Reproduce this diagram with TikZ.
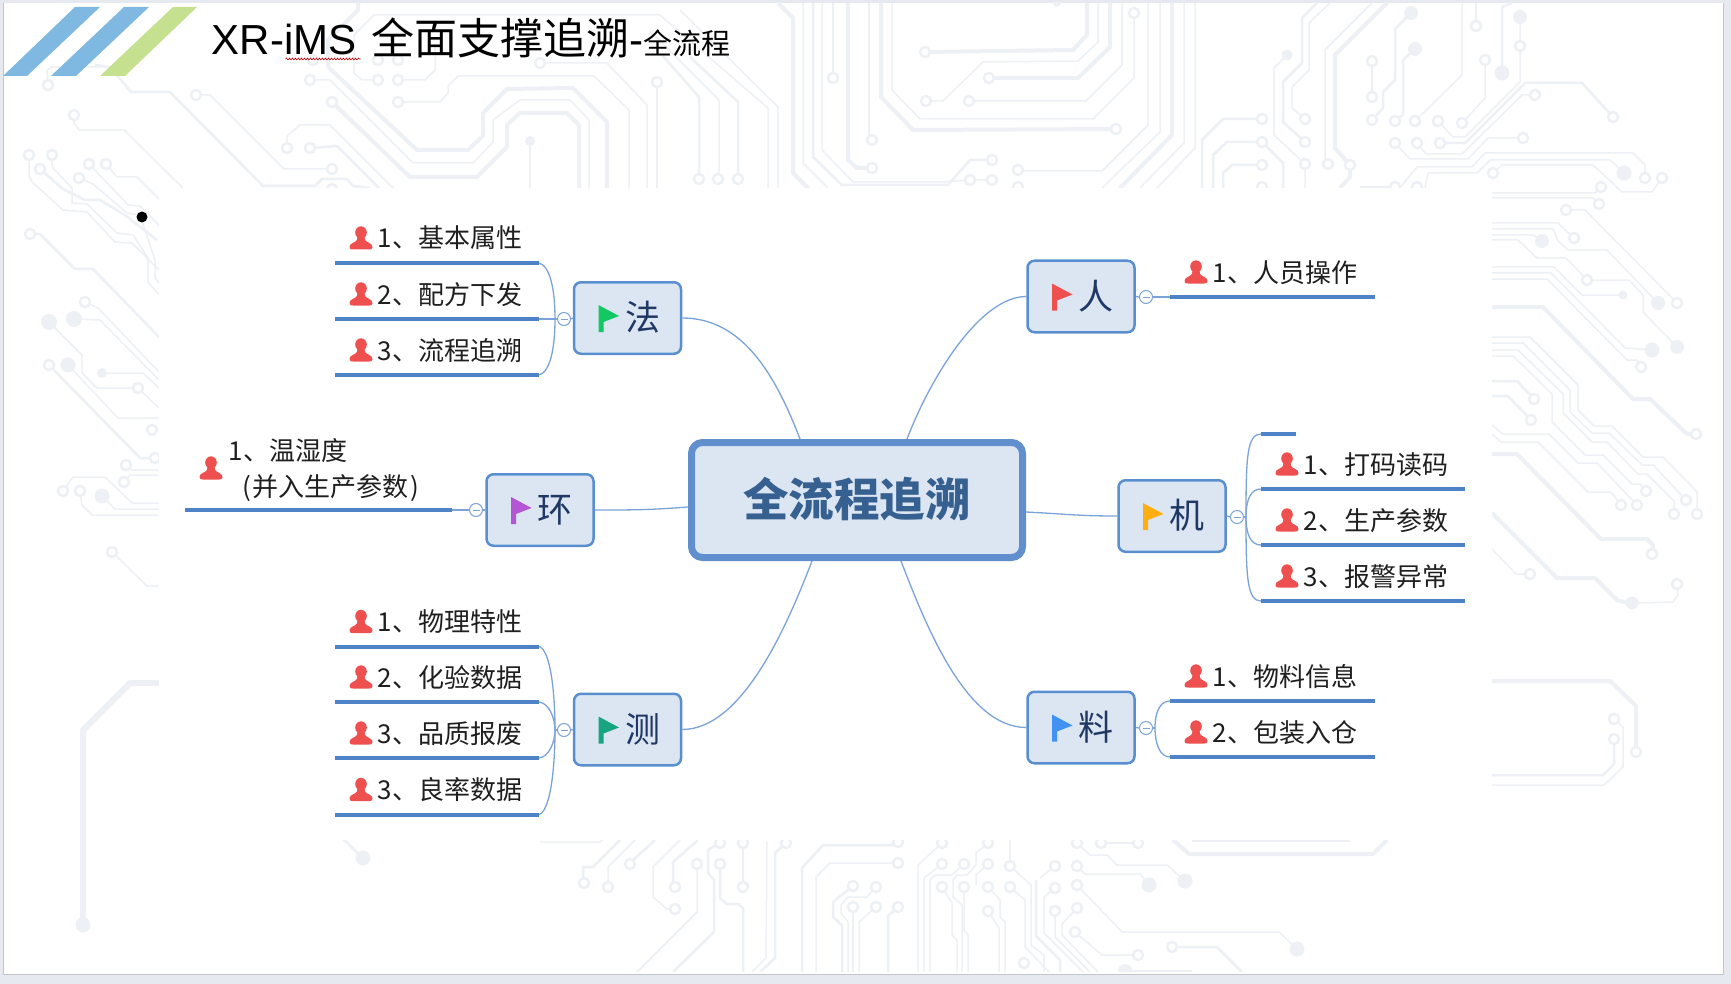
\documentclass[tikz,border=0pt]{standalone}
\usepackage{fontspec}
\usetikzlibrary{calc,decorations.pathmorphing}
\setmainfont{Liberation Sans}
\newfontfamily\cjkfont{Noto Sans CJK SC}
\definecolor{outerbg}{HTML}{E6E9EF}
\definecolor{slideedge}{HTML}{C2C6CC}
\definecolor{trace}{HTML}{EDF0F4}
\definecolor{branch}{HTML}{4F83C8}
\definecolor{thinlink}{HTML}{7BA3D8}
\definecolor{nodefill}{HTML}{DCE6F3}
\definecolor{nodeedge}{HTML}{5A8FCF}
\definecolor{navy}{HTML}{1F3864}
\definecolor{persred}{HTML}{EE5050}
\definecolor{titleblue}{HTML}{36608F}
\definecolor{flaggreen}{HTML}{12C862}
\definecolor{flagpurple}{HTML}{B455D6}
\definecolor{flagorange}{HTML}{FFAE12}
\definecolor{flagteal}{HTML}{16A57E}
\definecolor{flagblue}{HTML}{4192F2}
\tikzset{
 tA/.style={trace,line width=1.5pt,line join=round},
 tB/.style={trace,line width=2.5pt,line join=round},
 tC/.style={trace,line width=4pt,line join=round},
 tD/.style={trace,line width=6pt,line join=round},
 centre/.style={draw=branch!90!white,fill=nodefill,line width=7pt,rounded corners=11pt,minimum width=331pt,minimum height=115pt,inner sep=0pt,text=titleblue,font=\cjkfont\bfseries\fontsize{45.5}{50}\selectfont},
 topic/.style={draw=nodeedge,fill=nodefill,line width=2.5pt,rounded corners=7pt,minimum width=107pt,minimum height=71.5pt,inner sep=0pt,text=navy,font=\cjkfont\fontsize{35}{38}\selectfont},
 fold/.style={circle,draw=thinlink,fill=white,line width=1pt,minimum size=13pt,inner sep=0pt},
 lab/.style={anchor=base west,inner sep=0pt,text=black!88,font=\cjkfont\fontsize{26}{30}\selectfont},
 sub/.style={branch,line width=4pt},
 link/.style={thinlink,line width=1.3pt},
 flagicon/.pic={\path[pic actions] (0,0)--(20.5,11)--(5,17)--(5,27)--(0,27)--cycle;},
 personicon/.pic={\fill[persred] (0,-5.5) ellipse (5.8pt and 6.2pt);
   \fill[persred] (-3.6,-1)--(3.6,-1)--(4,2)..controls (6,5) and (11.5,5) .. (11.5,9)..controls (11.5,11.5) and (10,11.5) .. (8,11.5)--(-8,11.5)..controls (-10,11.5) and (-11.5,11.5) .. (-11.5,9)..controls (-11.5,5) and (-6,5) .. (-4,2)--cycle;}
}
\newcommand{\subt}[5]{%
 \coordinate (#1l) at (#2,#4);
 \coordinate (#1r) at (#3,#4);
 \draw[sub] (#1l)--(#1r);
 \pic at (#2+26,#4-25) {personicon};
 \node[lab] (#1t) at (#2+42.5,#4-15) {#5};
}
\newcommand{\topicflag}[5]{%
 \node[topic] (#1) at (#2,#3) {\rule[-5pt]{0pt}{35pt}\hspace*{30pt}#4};
 \pic[fill=#5] at ($(#1.center)+(-29,-13)$) {flagicon};
}
\newcommand{\minus}[1]{\draw[thinlink,line width=1pt] ($(#1)+(-3.5,0)$)--($(#1)+(3.5,0)$);}
\begin{document}
\begin{tikzpicture}[x=1pt,y=-1pt]
\useasboundingbox (0,0) rectangle (1731,984);
\fill[outerbg] (0,0) rectangle (1731,984);
\fill[white] (3,3) rectangle (1723,974);
\draw[slideedge,line width=1pt] (3,3)--(3,974)--(1723,974)--(1723,3);
\begin{scope}
\clip (3.5,3) rectangle (1722.5,971);
% ---- circuit background: top
\draw[tA] (48,85)--(47,70)--(52,67)--(110,67);
\draw[tB] (95,65)--(110,67)--(131,92)--(170,92)--(263,186)--(315,186)--(322,179)--(347,179)--(353,186)--(370,188);
\draw[tA] (196,95)--(210,95)--(284,169)--(332,169);
\draw[tA] (74,115)--(74,123)--(79,130)--(124,130)--(183,188);
\draw[tA] (310,80)--(330,80)--(413,163)--(473,163)--(493,142)--(493,120)--(520,100)--(570,100)--(589,120)--(589,188);
\draw[tC] (328,67)--(328,40)--(358,10)--(358,3);
\draw[tC] (328,67)--(417,150)--(468,150)--(483,136)--(483,113)--(507,89)--(573,88)--(607,122)--(607,188);
\draw[tC] (332,102)--(410,177)--(477,177)--(507,147)--(507,125)--(520,113)--(567,113)--(579,125)--(579,188);
\draw[tA] (398,80)--(425,80)--(435,70)--(435,45);
\draw[tA] (378,80)--(362,80)--(354,73)--(354,35)--(374,15)--(660,15)--(768,108)--(768,188);
\draw[tA] (398,102)--(440,102)--(448,93)--(448,86)--(458,76)--(594,76)--(629,110)--(629,188);
\draw[tA] (287,148)--(287,136)--(300,125)--(330,125)--(393,188);
\draw[tB] (310,148)--(337,146)--(380,189);
\draw[tA] (540,63)--(607,63)--(647,105)--(647,188);
\draw[tB] (657,82)--(657,188);
\draw[tB] (530,141)--(530,188);
\draw[tB] (662,55)--(699,97)--(699,173);
\draw[tA] (650,31)--(719,100)--(719,173);
\draw[tB] (690,57)--(738,102)--(738,173);
\draw[tA] (680,10)--(778,107)--(778,188);
\draw[tC] (778,3)--(793,18)--(793,173)--(808,188);
\draw[tA] (803,3)--(803,163)--(828,188);
\draw[tB] (813,3)--(813,157)--(842,185)--(948,185)--(970,160)--(992,160);
\draw[tA] (822,3)--(822,150)--(853,182)--(943,182)--(970,180)--(992,180);
\draw[tA] (833,3)--(833,78);
\draw[tC] (848,3)--(848,160)--(857,168)--(872,168);
\draw[tB] (869,3)--(869,138);
\draw[tC] (881,3)--(881,97)--(913,130)--(1116,129);
\draw[tA] (892,3)--(892,90)--(920,119)--(1093,119)--(1134,78)--(1134,13);
\draw[tC] (925,52)--(1073,50)--(1087,35)--(1087,3);
\draw[tC] (989,78)--(1078,78)--(1110,47)--(1110,3);
\draw[tA] (926,101)--(943,101)--(983,62)--(1078,61)--(1098,42)--(1098,3);
\draw[tA] (969,101)--(1086,101)--(1122,65)--(1122,3);
\draw[tA] (1018,171)--(1102,171)--(1148,125)--(1148,3);
\draw[tA] (1160,3)--(1160,132)--(1102,188);
\draw[tC] (1172,3)--(1172,135)--(1120,188);
\draw[tA] (1184,3)--(1184,143)--(1140,188);
\draw[tA] (1195,3)--(1195,148)--(1157,188);
\draw[tB] (1262,119)--(1223,119)--(1202,140)--(1202,188);
\draw[tB] (1262,142)--(1227,142)--(1213,155)--(1213,188);
\draw[tB] (1262,142)--(1283,163)--(1283,188);
\draw[tB] (1262,165)--(1232,165)--(1223,173)--(1223,188);
\draw[tA] (1287,55)--(1274,68)--(1274,135)--(1305,164)--(1305,188);
\draw[tA] (1305,119)--(1292,108)--(1292,87)--(1309,70)--(1309,23)--(1330,3);
\draw[tB] (1305,142)--(1283,122)--(1283,82)--(1302,63)--(1302,18)--(1317,3);
\draw[tA] (1328,164)--(1325,157)--(1325,50)--(1372,3);
\draw[tC] (1350,165)--(1335,148)--(1335,55)--(1387,3);
\draw[tC] (1350,165)--(1350,177)--(1340,188);
\draw[tA] (1372,61)--(1372,97);
\draw[tB] (1411,13)--(1395,29)--(1395,80)--(1383,92)--(1383,108)--(1372,120);
\draw[tB] (1415,49)--(1403,60)--(1403,115)--(1395,121);
\draw[tA] (1415,121)--(1462,75)--(1462,3);
\draw[tA] (1438,121)--(1453,137)--(1465,137)--(1520,82)--(1520,17);
\draw[tA] (1462,123)--(1485,98)--(1485,60);
\draw[tA] (1476,26)--(1476,3);
\draw[tB] (1502,73)--(1502,7)--(1512,3);
\draw[tA] (1395,143)--(1410,159)--(1468,159)--(1488,138)--(1523,138);
\draw[tA] (1417,143)--(1426,154)--(1462,154)--(1522,95)--(1535,95);
\draw[tB] (1440,143)--(1465,143)--(1525,83)--(1582,83)--(1613,117);
\draw[tA] (1400,188)--(1417,167)--(1472,167)--(1485,153)--(1633,153)--(1645,165)--(1645,178);
\draw[tA] (1425,188)--(1428,173)--(1477,173)--(1490,160)--(1610,160)--(1624,173);
\draw[tA] (1493,173)--(1502,165)--(1593,165)--(1622,192)--(1652,192)--(1662,178);
\draw[tB] (1360,187)--(1395,187);
% ---- left side
\draw[tA] (30,180)--(63,210)--(87,212)--(115,242)--(132,243)--(159,270);
\draw[tA] (29,155)--(29,177)--(32,180);
\draw[tA] (52,155)--(52,167)--(72,188)--(72,203)--(87,204)--(117,233)--(133,235)--(148,258)--(148,282)--(159,295);
\draw[tB] (40,169)--(63,189)--(85,200)--(100,200)--(125,215)--(157,240);
\draw[tA] (79,178)--(93,184)--(127,213)--(140,215)--(155,260)--(155,278)--(159,283);
\draw[tA] (89,164)--(113,189)--(128,205)--(140,206)--(159,225);
\draw[tA] (106,164)--(117,177)--(137,177)--(159,199);
\draw[tB] (30,234)--(40,234)--(75,269)--(93,269)--(159,337);
\draw[tA] (85,302)--(98,308)--(159,372);
\draw[tA] (74,319)--(100,320)--(159,380);
\draw[tA] (49,322)--(82,355)--(82,373)--(97,388)--(138,388)--(159,408);
\draw[tB] (49,365)--(140,458)--(159,458);
\draw[tA] (68,365)--(118,418)--(159,418);
\draw[tA] (102,373)--(143,373)--(159,388);
\draw[tA] (126,465)--(132,470)--(159,470);
\draw[tA] (124,482)--(130,475)--(159,475);
\draw[tA] (63,491)--(73,477)--(105,477)--(132,503)--(159,503);
\draw[tA] (80,491)--(82,505)--(92,515)--(159,515);
\draw[tA] (102,496)--(115,509)--(159,509);
\draw[tA] (112,552)--(147,586)--(159,586);
\draw[tD] (83,925)--(83,730)--(130,683)--(159,683);
% ---- right side
\draw[tA] (1492,193)--(1595,193)--(1601,187);
\draw[tA] (1492,198)--(1593,198)--(1599,204);
\draw[tA] (1566,210)--(1585,210)--(1677,303);
\draw[tA] (1492,223)--(1558,223)--(1574,238);
\draw[tA] (1492,229)--(1553,229)--(1558,241)--(1568,250)--(1607,250)--(1658,303);
\draw[tA] (1492,235)--(1533,235)--(1542,241);
\draw[tA] (1492,240)--(1518,240)--(1537,258)--(1566,258)--(1587,280)--(1629,280)--(1643,295)--(1643,312)--(1677,347);
\draw[tA] (1492,267)--(1554,267)--(1582,295)--(1623,295);
\draw[tA] (1492,273)--(1551,273)--(1625,348)--(1652,350);
\draw[tA] (1492,279)--(1547,279)--(1627,360)--(1637,360)--(1641,367);
\draw[tC] (1492,307)--(1543,307)--(1633,399)--(1650,399)--(1687,434)--(1696,434);
\draw[tA] (1492,337)--(1530,337)--(1578,385)--(1578,410)--(1594,426)--(1612,426)--(1643,457)--(1663,457)--(1697,492)--(1697,514);
\draw[tA] (1492,343)--(1523,343)--(1570,390)--(1570,412)--(1592,433)--(1609,433)--(1642,465)--(1653,465)--(1686,500);
\draw[tA] (1492,350)--(1518,350)--(1563,394)--(1563,413)--(1592,442)--(1607,442)--(1638,474)--(1647,474)--(1674,501)--(1674,514);
\draw[tA] (1492,356)--(1513,356)--(1552,394)--(1552,422)--(1585,455)--(1603,455)--(1632,484)--(1640,484)--(1646,491);
\draw[tB] (1492,381)--(1517,381)--(1534,399);
\draw[tB] (1492,396)--(1508,396)--(1531,420);
\draw[tA] (1492,425)--(1503,434)--(1549,434)--(1578,463)--(1597,463)--(1637,505);
\draw[tA] (1492,434)--(1501,442)--(1538,442)--(1588,492)--(1611,492)--(1621,505);
\draw[tC] (1492,454)--(1517,454)--(1601,539)--(1647,539)--(1653,545)--(1652,554);
\draw[tC] (1492,513)--(1557,578)--(1595,578)--(1618,601)--(1632,603);
\draw[tA] (1632,603)--(1673,602)--(1678,595)--(1677,584);
\draw[tA] (1492,549)--(1516,574)--(1530,574);
\draw[tC] (1492,681)--(1610,681)--(1636,706)--(1636,752);
\draw[tA] (1614,719)--(1623,727)--(1623,767)--(1604,785)--(1492,785);
\draw[tB] (1614,739)--(1614,764)--(1603,775)--(1492,775);
% ---- bottom
\draw[tB] (363,858)--(342,838);
\draw[tA] (540,842)--(600,842)--(603,840);
\draw[tB] (620,840)--(593,867)--(583,867)--(583,883);
\draw[tA] (635,840)--(608,867)--(608,887);
\draw[tB] (655,840)--(630,863);
\draw[tA] (680,840)--(653,867)--(653,897)--(667,909)--(675,909);
\draw[tB] (698,840)--(673,862)--(673,887);
\draw[tA] (697,864)--(697,912)--(637,972);
\draw[tB] (720,843)--(708,850)--(708,873)--(714,880)--(714,932)--(673,972);
\draw[tB] (720,864)--(720,898)--(727,904)--(738,904)--(743,908)--(743,972);
\draw[tA] (743,843)--(743,887);
\draw[tA] (767,842)--(766,958)--(752,972);
\draw[tB] (786,843)--(775,853)--(775,958)--(760,972);
\draw[tB] (898,842)--(893,845)--(823,845)--(802,868)--(802,972);
\draw[tA] (898,863)--(830,863)--(816,877)--(816,972);
\draw[tB] (853,886)--(833,902)--(833,917)--(842,925)--(842,972);
\draw[tA] (876,887)--(867,897)--(848,897)--(841,905)--(841,913)--(848,922)--(848,972);
\draw[tA] (853,907)--(853,972);
\draw[tA] (876,907)--(859,922)--(859,972);
\draw[tB] (898,907)--(888,916)--(888,972);
\draw[tA] (942,843)--(918,865)--(918,972);
\draw[tA] (942,864)--(924,878)--(924,972);
\draw[tA] (942,887)--(952,903)--(952,935)--(957,940)--(957,972);
\draw[tA] (964,864)--(952,875)--(935,875)--(930,880)--(930,972);
\draw[tA] (964,887)--(964,930)--(968,935)--(968,972);
\draw[tA] (988,843)--(976,853)--(976,865)--(967,875)--(957,875)--(953,880)--(953,897)--(962,905)--(962,972);
\draw[tA] (988,864)--(976,875)--(976,885);
\draw[tA] (988,887)--(1000,900)--(1000,917)--(1005,922)--(1005,972);
\draw[tA] (988,911)--(999,928)--(999,972);
\draw[tB] (1010,866)--(1010,840);
\draw[tA] (1010,866)--(1031,885)--(1031,945)--(1044,955)--(1044,972);
\draw[tA] (1010,887)--(1025,900)--(1025,947)--(1049,972);
\draw[tB] (1036,880)--(1036,936)--(1060,960)--(1060,972);
\draw[tC] (1173,840)--(1189,854)--(1373,854)--(1387,840);
\draw[tA] (1192,841)--(1350,841);
\draw[tA] (1101,843)--(1138,843);
\draw[tA] (1077,843)--(1090,855)--(1107,855)--(1117,865)--(1167,865)--(1185,881);
\draw[tA] (1077,866)--(1085,874)--(1140,874)--(1149,885);
\draw[tA] (1077,885)--(1122,932)--(1279,932)--(1297,949);
\draw[tA] (1077,908)--(1062,924)--(1062,935)--(1098,972);
\draw[tA] (1075,932)--(1102,955)--(1138,955);
\draw[tB] (1172,947)--(1217,947)--(1242,972);
\draw[tA] (1125,971)--(1192,971);
\draw[tA] (1055,866)--(1040,878);
\draw[tA] (1055,888)--(1044,897)--(1044,933)--(1083,972);
\draw[tA] (1055,911)--(1055,937)--(1090,972);
% rings
\foreach \p in {(48,85),(196,95),(74,115),(310,80),(332,102),(378,80),(398,80),(398,102),(287,148),(310,148),(332,169),(332,189),(313,60),(378,60),(398,60),
 (540,63),(657,82),(699,179),(718,179),(738,179),(833,78),(872,140),(872,168),(925,52),(989,78),(926,101),(969,101),(992,160),(992,180),(970,180),(1018,170),(1018,187),
 (1134,13),(1116,129),(1262,119),(1262,142),(1262,165),(1262,187),(1305,119),(1305,142),(1305,164),(1328,164),(1350,165),(1372,61),(1372,97),(1372,120),(1395,121),(1415,121),(1438,121),(1462,123),(1395,143),(1417,143),(1440,143),(1520,46),(1485,60),(1476,26),(1523,138),(1535,95),(1613,117),(1645,178),(1662,178),(1493,173),(1395,187),(1417,187),
 (29,155),(52,155),(40,169),(89,164),(106,164),(79,178),(30,234),(85,302),(138,388),(49,365),(152,430),(155,458),(126,465),(124,482),(63,491),(80,491),(112,552),
 (1601,187),(1599,204),(1566,210),(1677,303),(1574,238),(1587,280),(1641,367),(1696,434),(1697,514),(1686,500),(1674,514),(1646,491),(1534,399),(1531,420),(1637,505),(1621,505),(1652,554),(1677,584),(1530,574),(1636,752),(1614,719),(1614,739),
 (584,883),(608,887),(630,864),(675,887),(675,909),(697,864),(720,843),(720,864),(743,843),(743,887),(786,843),(898,842),(898,863),(853,886),(876,887),(853,907),(876,907),(898,907),(942,843),(942,864),(942,887),(964,864),(964,887),(988,843),(988,864),(988,887),(988,911),(1010,866),(1010,887),(1024,963),
 (1055,866),(1055,888),(1055,911),(1077,843),(1101,843),(1138,843),(1077,866),(1077,885),(1077,908),(1075,932),(1138,955),(1172,947)}
 {\draw[trace,line width=2.5pt,fill=white] \p circle[radius=5pt];}
% dots
\foreach \p/\r in {(530,141)/5,(1287,55)/5.5,(1411,13)/7,(1415,49)/7,(1520,17)/7,(1502,73)/7.5,(1624,173)/7.5,(1057,3)/4,
 (74,319)/8,(49,322)/8,(68,365)/7.5,(102,373)/5,(102,496)/7.5,(83,925)/7.5,
 (1658,303)/7,(1542,241)/7,(1677,347)/7,(1623,295)/4.5,(1652,350)/7.5,(1632,603)/6.5,
 (363,858)/7.5,(1185,881)/7.5,(1149,885)/7.5,(1297,949)/7.5,(1125,971)/7}
 {\fill[trace] \p circle[radius=\r pt];}
\end{scope}
% white panel over the pattern
\fill[white] (159,188) rectangle (1492,840);
% ---- header
\fill[fill={rgb,255:red,127;green,184;blue,224}] (75,7)--(100,7)--(27,76)--(3,76)--cycle;
\fill[fill={rgb,255:red,127;green,184;blue,224}] (124,7)--(149,7)--(76,76)--(51,76)--cycle;
\fill[fill={rgb,255:red,197;green,224;blue,142}] (173,7)--(197,7)--(125,76)--(100,76)--cycle;
\node[anchor=base west,inner sep=0pt] (title) at (211.5,55) {\fontsize{42}{44}\selectfont XR-iMS\hspace{3pt} {\cjkfont\fontsize{43}{46}\selectfont 全面支撑追溯}-{\cjkfont\fontsize{29}{30}\selectfont 全流程}};
\coordinate (sqa) at ($(title.base west)+(74,4)$);
\coordinate (sqb) at ($(title.base west)+(149,4)$);
\draw[red!75!black,line width=0.6pt,decorate,decoration={snake,amplitude=0.9pt,segment length=3pt}] (sqa)--(sqb);
\fill[black] (142,217) circle[radius=5.5pt];
% ---- mind map
\node[centre] (main) at (857,500) {\rule[-6pt]{0pt}{44.6pt}全流程追溯};
\topicflag{fa}{627.5}{318}{法}{flaggreen}
\topicflag{ren}{1081}{296.5}{人}{persred}
\topicflag{huan}{540}{510}{环}{flagpurple}
\topicflag{ji}{1172}{516}{机}{flagorange}
\topicflag{ce}{627.5}{729.5}{测}{flagteal}
\topicflag{liao}{1081}{727.5}{料}{flagblue}
\draw[link] (fa.east) .. controls +(60,0) and +(-25,-65) .. ($(main.north)+(-57,0)$);
\draw[link] (ren.west) .. controls +(-45,0) and +(25,-65) .. ($(main.north)+(50,0)$);
\draw[link] (huan.east) .. controls +(40,0) and +(-40,3) .. ($(main.west)+(0,7)$);
\draw[link] (ji.west) .. controls +(-40,0) and +(40,2) .. ($(main.east)+(0,12)$);
\draw[link] (ce.east) .. controls +(60,0) and +(-25,65) .. ($(main.south)+(-45,0)$);
\draw[link] (liao.west) .. controls +(-60,0) and +(25,65) .. ($(main.south)+(44,0)$);
% fa
\subt{fa1}{335}{539}{263}{1、基本属性}
\subt{fa2}{335}{539}{319}{2、配方下发}
\subt{fa3}{335}{539}{375}{3、流程追溯}
\node[fold] (fac) at (564,319) {};
\coordinate (faj) at ($(fac.west)+(-2,0)$);
\draw[link] (fa.west)--(fac.east);
\draw[link] (fa2r)--(fac.west);
\draw[link] (fa1r) .. controls +(11,3) and +(0,-30) .. (faj);
\draw[link] (fa3r) .. controls +(11,-3) and +(0,30) .. (faj);
\minus{fac}
% ren
\subt{ren1}{1170}{1375}{297}{1、人员操作}
\node[fold] (renc) at (1146,297) {};
\draw[link] (ren.east)--(renc.west);
\draw[link] (renc.east)--(ren1l);
\minus{renc}
% ji
\coordinate (ji0l) at (1261,434);
\coordinate (ji0r) at (1296,434);
\draw[sub] (ji0l)--(ji0r);
\subt{ji1}{1261}{1465}{489}{1、打码读码}
\subt{ji2}{1261}{1465}{545}{2、生产参数}
\subt{ji3}{1261}{1465}{601}{3、报警异常}
\node[fold] (jic) at (1237,517) {};
\coordinate (jij) at ($(jic.east)+(2,0)$);
\draw[link] (ji.east)--(jic.west);
\draw[link] (jic.east)--(jij);
\draw[link] (jij) .. controls +(0,-60) and +(-14,0) .. (ji0l);
\draw[link] (jij) .. controls +(0,-18) and +(-10,0) .. (ji1l);
\draw[link] (jij) .. controls +(0,18) and +(-10,0) .. (ji2l);
\draw[link] (jij) .. controls +(0,60) and +(-14,0) .. (ji3l);
\minus{jic}
% huan
\coordinate (hu1l) at (185,510);
\coordinate (hu1r) at (452,510);
\draw[sub] (hu1l)--(hu1r);
\pic at (211,468) {personicon};
\node[lab] (hu1t) at (228.5,460) {1、温湿度};
\node[lab] (hu2t) at (242,496) {(\hspace{2pt}并入生产参数\hspace{2pt})};
\node[fold] (huc) at (476,510) {};
\draw[link] (huan.west)--(huc.east);
\draw[link] (huc.west)--(hu1r);
\minus{huc}
% ce
\subt{ce1}{335}{539}{646.5}{1、物理特性}
\subt{ce2}{335}{539}{702}{2、化验数据}
\subt{ce3}{335}{539}{758}{3、品质报废}
\subt{ce4}{335}{539}{814.5}{3、良率数据}
\node[fold] (cec) at (564,730) {};
\coordinate (cej) at ($(cec.west)+(-2,0)$);
\draw[link] (ce.west)--(cec.east);
\draw[link] (cej)--(cec.west);
\draw[link] (ce1r) .. controls +(11,3) and +(0,-40) .. (cej);
\draw[link] (ce2r) .. controls +(10,1) and +(0,-12) .. (cej);
\draw[link] (ce3r) .. controls +(10,-1) and +(0,12) .. (cej);
\draw[link] (ce4r) .. controls +(11,-3) and +(0,40) .. (cej);
\minus{cec}
% liao
\subt{li1}{1170}{1375}{701}{1、物料信息}
\subt{li2}{1170}{1375}{757}{2、包装入仓}
\node[fold] (lic) at (1146,728) {};
\coordinate (lij) at ($(lic.east)+(2,0)$);
\draw[link] (liao.east)--(lic.west);
\draw[link] (lic.east)--(lij);
\draw[link] (lij) .. controls +(0,-16) and +(-10,0) .. (li1l);
\draw[link] (lij) .. controls +(0,16) and +(-10,0) .. (li2l);
\minus{lic}
\end{tikzpicture}
\end{document}
